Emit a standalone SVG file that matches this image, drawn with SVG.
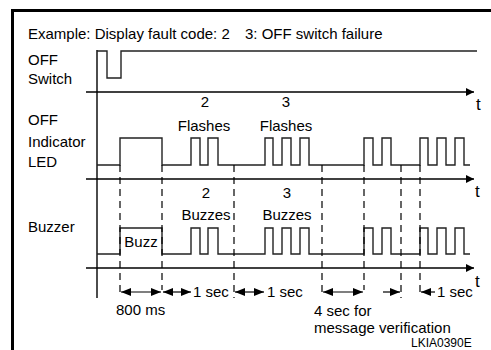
<svg xmlns="http://www.w3.org/2000/svg" width="491" height="350" viewBox="0 0 491 350">
<defs>
<style>
text{font-family:"Liberation Sans",Arial,sans-serif;font-size:15px;fill:#000}
.c{text-anchor:middle}
.t{font-size:17px}
.frame{stroke:#000;stroke-width:3;fill:none}
.axis{stroke:#000;stroke-width:1.4;fill:none}
.wave{stroke:#222;stroke-width:1.4;fill:none}
.dash{stroke:#000;stroke-width:1.2;stroke-dasharray:7,5;fill:none}
.dim{stroke:#000;stroke-width:1.2;fill:none}
</style>
<marker id="ah" viewBox="0 0 10 8" refX="10" refY="4" markerWidth="10" markerHeight="8" markerUnits="userSpaceOnUse" orient="auto-start-reverse">
<path d="M0,0 L10,4 L0,8 Z" fill="#000"/>
</marker>
<marker id="axh" viewBox="0 0 8 8" refX="8" refY="4" markerWidth="8" markerHeight="8" markerUnits="userSpaceOnUse" orient="auto">
<path d="M0,0 L8,4 L0,8 Z" fill="#000"/>
</marker>
</defs>
<g id="frame">
<path class="frame" d="M11,10.5 H491 M12.5,9 V350"/>
</g>
<g id="title">
<text x="28" y="39">Example: Display fault code: 2</text>
<text x="245" y="39">3: OFF switch failure</text>
</g>
<g id="labels">
<text x="28" y="65">OFF</text>
<text x="28" y="84">Switch</text>
<text x="28" y="125">OFF</text>
<text x="28" y="146.5">Indicator</text>
<text x="28" y="167">LED</text>
<text x="28" y="232">Buzzer</text>
</g>
<g id="axes">
<path class="axis" d="M97,50 V298"/>
<path class="axis" d="M86,92 H474" marker-end="url(#axh)"/>
<path class="axis" d="M86,179 H474" marker-end="url(#axh)"/>
<path class="axis" d="M86,268 H474" marker-end="url(#axh)"/>
<text class="t" x="476" y="110">t</text>
<text class="t" x="475" y="197">t</text>
<text class="t" x="475" y="287">t</text>
</g>
<g id="switch-wave">
<path class="wave" d="M97,51 H107 V78 H121 V51 H477"/>
</g>
<g id="led-wave">
<path class="wave" d="M97,165 H120 V138 H162 V165 H191 V138 H200 V165 H208 V138 H218 V165 H265 V138 H273 V165 H282 V138 H291 V165 H300 V138 H309 V165 H364 V138 H373 V165 H382 V138 H391 V165 H420 V138 H428 V165 H437 V138 H446 V165 H455 V138 H464 V165 H470"/>
<text class="c" x="205" y="107">2</text>
<text class="c" x="204" y="131">Flashes</text>
<text class="c" x="286" y="107">3</text>
<text class="c" x="286" y="131">Flashes</text>
</g>
<g id="buzzer-wave">
<path class="wave" d="M97,254 H120 V228 H162 V254 H191 V228 H200 V254 H208 V228 H218 V254 H265 V228 H273 V254 H282 V228 H291 V254 H300 V228 H309 V254 H364 V228 H373 V254 H382 V228 H391 V254 H420 V228 H428 V254 H437 V228 H446 V254 H455 V228 H464 V254 H470"/>
<text class="c" x="141" y="247">Buzz</text>
<text class="c" x="206" y="198">2</text>
<text class="c" x="206" y="220">Buzzes</text>
<text class="c" x="287" y="198">3</text>
<text class="c" x="287" y="220">Buzzes</text>
</g>
<g id="connectors">
<path class="dash" d="M120,165 V297"/>
<path class="dash" d="M162,165 V290"/>
<path class="dash" d="M234,165 V298"/>
<path class="dash" d="M322,165 V293"/>
<path class="dash" d="M364,165 V290"/>
<path class="dash" d="M401,165 V298"/>
<path class="dash" d="M420,165 V293"/>
<path class="dim" d="M121,292 H161" marker-start="url(#ah)" marker-end="url(#ah)"/>
<path class="dim" d="M163,292 H191" marker-start="url(#ah)" marker-end="url(#ah)"/>
<path class="dim" d="M235,292 H264" marker-start="url(#ah)" marker-end="url(#ah)"/>
<path class="dim" d="M323,292 H363" marker-start="url(#ah)" marker-end="url(#ah)"/>
<path class="dim" d="M383,292 H400" marker-end="url(#ah)"/>
<path class="dim" d="M421,292 H435" marker-start="url(#ah)"/>
</g>
<g id="dim-labels">
<text x="116" y="315">800 ms</text>
<text x="193" y="297">1 sec</text>
<text x="267" y="297">1 sec</text>
<text x="314" y="316">4 sec for</text>
<text x="314" y="333">message verification</text>
<text x="437" y="297">1 sec</text>
<text x="411" y="347.2" style="font-size:12px">LKIA0390E</text>
</g>
</svg>
